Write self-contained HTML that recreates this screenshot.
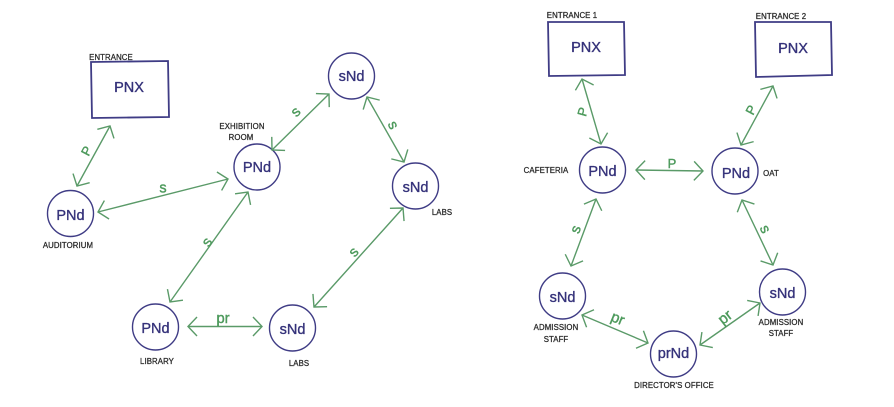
<!DOCTYPE html>
<html><head><meta charset="utf-8"><style>
html,body{margin:0;padding:0;background:#fff;width:894px;height:407px;overflow:hidden}
svg{display:block;filter:blur(.35px)}
.n{font:14.500px "Liberation Sans",sans-serif;fill:#35327a;stroke:#35327a;stroke-width:.35;text-anchor:middle}
.b{fill:none;stroke:#3f3c85;stroke-width:1.4}
.r{fill:none;stroke:#3f3c85;stroke-width:1.8}
.a{fill:none;stroke:#5a9a68;stroke-width:1.4}
.g{font:13px "Liberation Sans",sans-serif;fill:#4d9a5c;stroke:#4d9a5c;stroke-width:.4;text-anchor:middle}
.s{font-size:14.500px}
.l{font:7.800px "Liberation Sans",sans-serif;fill:#2b2b2b;stroke:#2b2b2b;stroke-width:.28;text-anchor:middle;letter-spacing:.1px}
</style></head><body>
<svg width="894" height="407" viewBox="0 0 894 407" xmlns="http://www.w3.org/2000/svg">
<defs><marker id="h" markerUnits="userSpaceOnUse" markerWidth="30" markerHeight="30" refX="15" refY="15" orient="auto-start-reverse" viewBox="0 0 30 30"><path d="M6 5.500L15 15L6 24.500" fill="none" stroke="#5a9a68" stroke-width="1.4"/></marker></defs>

<polygon class="r" points="91,62 168,61 169,117 92,118"/>
<circle class="b" cx="70.5" cy="213.5" r="23"/>
<circle class="b" cx="257" cy="167" r="23"/>
<circle class="b" cx="351.5" cy="76" r="23"/>
<circle class="b" cx="415.5" cy="186" r="23"/>
<circle class="b" cx="155.5" cy="327" r="23"/>
<circle class="b" cx="292.5" cy="328" r="23"/>

<polygon class="r" points="548,22 624,22 625,75 549,76"/>
<polygon class="r" points="755,22 831,22 832,75 756,77"/>
<circle class="b" cx="602.5" cy="170" r="23"/>
<circle class="b" cx="735" cy="171" r="23"/>
<circle class="b" cx="562.5" cy="296" r="23"/>
<circle class="b" cx="782.5" cy="292" r="23"/>
<circle class="b" cx="673.5" cy="354" r="23"/>

<g class="a">
<line x1="77" y1="186" x2="110" y2="126" marker-start="url(#h)" marker-end="url(#h)"/>
<line x1="98" y1="212" x2="228" y2="179" marker-start="url(#h)" marker-end="url(#h)"/>
<line x1="170" y1="302" x2="248" y2="192" marker-start="url(#h)" marker-end="url(#h)"/>
<line x1="188" y1="326.500" x2="262" y2="326.500" marker-start="url(#h)" marker-end="url(#h)"/>
<line x1="272" y1="150" x2="329" y2="94" marker-start="url(#h)" marker-end="url(#h)"/>
<line x1="367" y1="97" x2="404" y2="162" marker-start="url(#h)" marker-end="url(#h)"/>
<line x1="314" y1="307" x2="403" y2="208" marker-start="url(#h)" marker-end="url(#h)"/>
<line x1="582" y1="79" x2="601" y2="144" marker-start="url(#h)" marker-end="url(#h)"/>
<line x1="636" y1="170" x2="703" y2="171" marker-start="url(#h)" marker-end="url(#h)"/>
<line x1="773" y1="86" x2="741" y2="145" marker-start="url(#h)" marker-end="url(#h)"/>
<line x1="596" y1="199" x2="571" y2="266" marker-start="url(#h)" marker-end="url(#h)"/>
<line x1="742" y1="200" x2="773" y2="265" marker-start="url(#h)" marker-end="url(#h)"/>
<line x1="582" y1="315" x2="648" y2="343" marker-start="url(#h)" marker-end="url(#h)"/>
<line x1="700" y1="345" x2="760" y2="303" marker-start="url(#h)" marker-end="url(#h)"/>
</g>

<text class="n" x="129" y="92">PNX</text>
<text class="n" x="70.500" y="220">PNd</text>
<text class="n" x="257" y="172">PNd</text>
<text class="n" x="351.500" y="81">sNd</text>
<text class="n" x="415.500" y="192">sNd</text>
<text class="n" x="155.500" y="333">PNd</text>
<text class="n" x="292.500" y="334">sNd</text>
<text class="n" x="586" y="52">PNX</text>
<text class="n" x="793" y="53">PNX</text>
<text class="n" x="602.500" y="176">PNd</text>
<text class="n" x="736" y="178">PNd</text>
<text class="n" x="562.500" y="302">sNd</text>
<text class="n" x="782.500" y="298">sNd</text>
<text class="n" x="673.500" y="358">prNd</text>

<text class="g" transform="translate(90.500,153) rotate(-62)">P</text>
<text class="g s" x="163" y="192.500">s</text>
<text class="g s" transform="translate(210.700,244.600) rotate(-55)">s</text>
<text class="g" x="223" y="323" style="font-size:15px">pr</text>
<text class="g s" transform="translate(299,115) rotate(-45)">s</text>
<text class="g s" transform="translate(389,127) rotate(65)">s</text>
<text class="g s" transform="translate(357,255) rotate(-48)">s</text>
<text class="g" transform="translate(587,113) rotate(-75)">P</text>
<text class="g" x="672" y="168">P</text>
<text class="g" transform="translate(755,112) rotate(-62)">P</text>
<text class="g s" transform="translate(580,231) rotate(-70)">s</text>
<text class="g s" transform="translate(761,231) rotate(65)">s</text>
<text class="g" transform="translate(616,323) rotate(22)" style="font-size:15px">pr</text>
<text class="g" transform="translate(728,321) rotate(-38)" style="font-size:15px">pr</text>

<text class="l" x="111" y="60">ENTRANCE</text>
<text class="l" x="242" y="129">EXHIBITION</text>
<text class="l" x="241" y="140">ROOM</text>
<text class="l" x="68" y="248">AUDITORIUM</text>
<text class="l" x="157" y="364">LIBRARY</text>
<text class="l" x="299" y="366">LABS</text>
<text class="l" x="442" y="215">LABS</text>
<text class="l" x="572" y="18">ENTRANCE 1</text>
<text class="l" x="781" y="19">ENTRANCE 2</text>
<text class="l" x="546" y="173">CAFETERIA</text>
<text class="l" x="771" y="176">OAT</text>
<text class="l" x="556" y="330">ADMISSION</text>
<text class="l" x="556" y="342">STAFF</text>
<text class="l" x="781" y="325">ADMISSION</text>
<text class="l" x="781" y="336">STAFF</text>
<text class="l" x="674" y="388">DIRECTOR'S OFFICE</text>
</svg>
</body></html>
